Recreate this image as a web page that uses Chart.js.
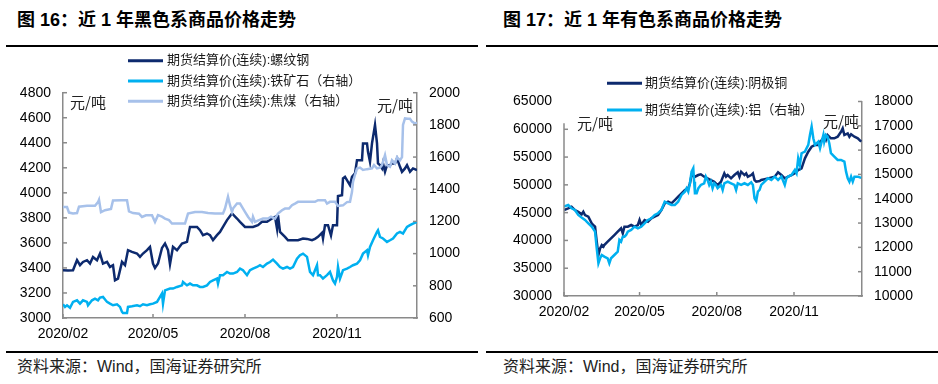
<!DOCTYPE html>
<html>
<head>
<meta charset="utf-8">
<script src="https://cdn.jsdelivr.net/npm/chart.js@4.4.1/dist/chart.umd.min.js"></script>
<style>
  body { margin: 0; width: 938px; height: 384px; background: #fff; position: relative; overflow: hidden;
         font-family: "Liberation Sans", Arial, "Noto Sans CJK SC", sans-serif; }
  .title { position: absolute; top: 8px; line-height: 24px; font-size: 18px; font-weight: bold; color: #000; }
  .rule { position: absolute; height: 2px; background: #000; }
  .src { position: absolute; top: 357px; line-height: 20px; font-size: 16px; color: #222; }
  .box { position: absolute; top: 50px; }
</style>
</head>
<body>
<div class="title" style="left:17px">图 16：近 1 年黑色系商品价格走势</div>
<div class="title" style="left:503px">图 17：近 1 年有色系商品价格走势</div>
<div class="rule" style="left:6px;width:472px;top:45px"></div>
<div class="rule" style="left:486px;width:452px;top:45px"></div>

<div class="box" style="left:0px"><canvas id="black" width="470" height="300"></canvas></div>
<div class="box" style="left:490px"><canvas id="color" width="448" height="300"></canvas></div>

<div class="rule" style="left:6px;width:472px;top:351px"></div>
<div class="rule" style="left:486px;width:452px;top:351px"></div>
<div class="src" style="left:17px">资料来源：Wind，国海证券研究所</div>
<div class="src" style="left:503px">资料来源：Wind，国海证券研究所</div>

<script>
// --- dados (dias contados a partir de 2020-02-01) ---
const tickDays = [0, 90, 182, 274];
const tickLabels = ['2020/02', '2020/05', '2020/08', '2020/11'];

// 螺纹钢 (eixo esquerdo)
const rebarDays = [0,5,10,14,17,20,24,27,30,34,37,40,44,47,50,52,55,59,62,65,69,74,77,80,84,87,90,92,95,99,
  102,105,107,110,114,119,124,127,134,137,140,144,147,150,154,157,160,164,169,174,177,182,185,190,195,199,
  204,209,212,214,215,217,222,225,230,235,240,244,249,252,255,259,260,262,265,268,270,274,275,279,280,282,
  285,287,289,292,294,299,300,304,305,307,309,312,314,315,317,319,320,322,324,327,329,332,334,337,339,342,
  344,347,350,354];
const rebarPrice = [3382,3380,3382,3462,3422,3448,3462,3435,3488,3462,3515,3435,3448,3408,3422,3302,3315,3448,
  3422,3542,3528,3515,3488,3515,3542,3568,3435,3400,3435,3560,3595,3542,3430,3568,3542,3595,3608,3728,3728,
  3702,3662,3675,3662,3622,3662,3688,3728,3782,3835,3795,3768,3728,3728,3728,3742,3768,3768,3795,3808,3715,
  3822,3688,3648,3621,3621,3621,3635,3632,3622,3632,3648,3680,3635,3742,3742,3660,3742,3742,3975,3981,4115,
  4128,4088,4061,4128,4155,4261,4261,4395,4395,4328,4248,4395,4542,4395,4235,4221,4195,4235,4168,4221,4221,
  4235,4235,4275,4208,4168,4195,4221,4168,4195,4181];

// 铁矿石 (eixo direito)
const oreDays = [0,2,4,7,10,14,17,20,24,25,29,32,35,37,40,44,47,50,54,57,59,60,64,65,69,74,77,80,84,87,90,94,
  97,99,100,102,107,110,114,119,120,124,127,130,134,137,140,144,147,150,154,155,157,160,164,167,170,174,177,
  180,184,187,190,194,197,200,204,207,210,214,217,220,224,227,230,234,237,240,244,247,250,254,255,257,260,
  264,267,270,272,274,275,277,280,284,287,290,294,297,300,304,305,307,310,314,315,317,320,324,327,330,334,
  337,340,344,347,350,354];
const orePrice = [685,669,679,664,700,710,689,710,700,679,710,720,710,727,731,700,689,679,685,669,638,631,631,
  669,673,679,673,685,679,685,689,700,731,752,689,772,783,783,793,803,824,803,814,803,803,793,793,803,824,834,
  845,814,866,866,886,876,876,886,907,897,866,897,907,917,928,917,938,948,963,938,917,907,917,907,917,969,990,
  1000,980,886,866,928,866,866,845,866,886,834,814,855,917,845,897,907,917,928,938,959,1000,1021,990,1042,1083,
  1135,1145,1104,1094,1073,1083,1094,1125,1135,1125,1166,1177,1187,1197];

// 焦煤 (eixo direito)
const coalDays = [0,4,6,10,14,16,24,32,35,36,38,42,48,50,58,64,66,70,76,79,83,89,92,95,99,102,106,109,115,122,
  125,132,139,145,152,160,162,165,167,169,170,174,177,179,182,185,189,190,192,196,200,205,208,212,215,219,222,
  226,229,232,235,245,252,255,262,264,267,272,275,280,284,287,289,290,292,294,297,300,304,309,311,314,317,319,
  322,324,327,329,332,334,337,339,340,342,345,347,349,352,354];
const coalPrice = [1290,1290,1255,1250,1252,1292,1297,1297,1320,1335,1258,1270,1278,1330,1332,1332,1262,1252,
  1248,1228,1238,1239,1197,1239,1230,1218,1208,1187,1187,1187,1249,1259,1259,1252,1249,1249,1280,1353,1301,1259,
  1280,1311,1311,1290,1259,1229,1197,1229,1197,1208,1218,1218,1229,1218,1249,1270,1280,1280,1301,1311,1322,1322,
  1322,1332,1332,1311,1322,1322,1296,1300,1320,1322,1384,1446,1490,1529,1535,1520,1525,1530,1550,1530,1535,1550,
  1612,1550,1540,1580,1560,1600,1580,1600,1800,1840,1838,1838,1820,1808,1815];

// 阴极铜 (eixo esquerdo)
const copperDays = [0,5,9,13,17,21,23,25,29,33,35,37,39,41,43,45,47,48,52,56,60,64,68,70,72,76,80,84,88,90,92,
  96,100,104,108,112,116,120,124,128,132,136,140,144,148,150,152,156,160,163,167,171,175,179,183,187,191,193,
  195,199,203,207,209,211,215,217,219,223,225,227,229,233,235,243,251,255,259,263,267,271,275,279,283,287,291,
  295,299,303,305,307,310,312,314,318,322,326,330,332,334,338,340,342,346,350,354];
const copperPrice = [45471,45777,46070,45471,45171,44697,45171,44572,44266,43073,42773,42473,39770,37376,38575,
  39175,38869,39175,39770,40370,40970,41570,42170,41280,42473,42473,42773,42473,42773,43672,42773,43672,43366,
  43972,44266,44572,45471,46674,46970,46674,47270,47864,48475,49069,49375,50275,51768,51462,51768,51893,51462,
  51170,50868,50565,49969,50565,52073,51462,51768,51170,51768,52253,51462,52362,51768,52073,51462,51768,52073,
  50868,50565,50689,50868,51170,51462,52253,51768,51170,51462,51768,52073,52667,52970,54772,55960,56860,57165,
  57165,57758,58064,58660,58064,58964,58370,58370,58660,59557,60170,58964,59270,58660,59090,58660,58370,57758];

// 铝 (eixo direito)
const aluDays = [0,5,9,13,17,21,25,29,33,37,39,41,43,45,48,52,54,56,60,64,66,68,70,72,74,76,80,84,88,92,96,100,
  104,108,112,116,120,124,128,132,136,140,144,146,148,150,152,154,155,156,158,160,163,167,169,171,173,175,177,
  179,181,183,187,189,191,195,199,203,205,207,211,215,219,223,225,227,229,231,233,235,239,243,247,251,255,259,
  263,265,267,271,275,277,279,281,283,287,291,293,295,297,299,303,305,307,309,310,312,314,316,318,322,326,330,
  334,336,338,340,342,344,346,350,354];
const aluPrice = [13676,13745,13609,13539,13333,13224,13127,12990,12852,12647,11961,11344,11551,11687,11618,
  11551,11344,11551,11687,11824,12304,12235,12440,12440,12510,12647,12716,12852,12784,12852,12990,13127,13196,
  13333,13403,13539,13881,13814,13745,13745,13881,14156,14292,14432,14292,14637,15115,15253,14704,14226,14226,
  14432,14568,14637,14909,14773,14568,14704,14432,14637,14568,14432,14568,14362,14637,14704,14637,14568,14362,
  14637,14568,14637,14568,14677,14568,14020,13909,14292,14362,14568,14704,14843,14773,14909,14773,14909,14568,
  14843,14909,14979,15185,15049,15665,15391,15872,15938,16214,16625,16967,16489,16214,16350,16078,16350,16625,
  16350,16625,16555,16284,15872,15732,15596,15596,15527,15115,14843,14704,14909,14704,14909,14909,14856];

const NAVY = '#0d2a6e';
const CYAN = '#00b0f0';
const PALE = '#a7c1ea';
const AXIS = '#8a8a8a';
const FONT = '"Liberation Sans", Arial, "Noto Sans CJK SC", sans-serif';
const CJK = '"Noto Sans CJK SC", sans-serif';

function pts(days, vals) {
  return days.map((d, i) => ({ x: d, y: vals[i] }));
}

// ticks para dentro, legenda e unidades desenhadas à mão
const decor = {
  id: 'decor',
  afterDraw(chart, args, o) {
    const ctx = chart.ctx;
    ctx.save();
    ctx.strokeStyle = AXIS;
    ctx.lineWidth = 1.5;
    Object.values(chart.scales).forEach(s => {
      const cut = (s.id === 'y' && o.axisTop) ? o.axisTop : null;
      if (cut !== null) {
        ctx.beginPath();
        ctx.moveTo(s.right, s.getPixelForValue(cut));
        ctx.lineTo(s.right, s.bottom);
        ctx.stroke();
      }
      s.ticks.forEach((t, i) => {
        if (cut !== null && t.value > cut) return;
        const p = s.getPixelForTick(i);
        ctx.beginPath();
        if (s.axis === 'x') { ctx.moveTo(p, s.top); ctx.lineTo(p, s.top - 4); }
        else if (s.position === 'left') { ctx.moveTo(s.right, p); ctx.lineTo(s.right + 4, p); }
        else { ctx.moveTo(s.left, p); ctx.lineTo(s.left - 4, p); }
        ctx.stroke();
      });
    });

    // legenda
    ctx.font = '13px ' + FONT;
    ctx.textBaseline = 'middle';
    chart.data.datasets.forEach((ds, i) => {
      const y = o.legendY[i];
      ctx.strokeStyle = ds.borderColor;
      ctx.lineWidth = 3;
      ctx.beginPath();
      ctx.moveTo(o.legendX[0], y);
      ctx.lineTo(o.legendX[1], y);
      ctx.stroke();
      ctx.fillStyle = '#1a1a1a';
      ctx.fillText(ds.label, o.legendX[2], y);
    });

    // unidades
    ctx.font = '15px ' + CJK;
    ctx.fillStyle = '#222';
    o.units.forEach(u => ctx.fillText('元/吨', u[0], u[1]));
    ctx.restore();
  }
};

function yAxis(pos, min, max, step, width) {
  return {
    type: 'linear', position: pos, min: min, max: max,
    grid: { display: false, drawTicks: false },
    border: { display: true, color: AXIS, width: 1.5 },
    ticks: {
      stepSize: step, padding: 12, color: '#000', font: { family: FONT, size: 14 },
      callback: v => String(v)
    },
    afterFit: s => { s.width = width; }
  };
}

function xAxis(max, height, pad) {
  return {
    type: 'linear', min: 0, max: max,
    grid: { display: false, drawTicks: false },
    border: { display: true, color: AXIS, width: 1.5 },
    afterBuildTicks: s => { s.ticks = tickDays.map(v => ({ value: v })); },
    ticks: {
      autoSkip: false, maxRotation: 0, padding: pad, color: '#000',
      font: { family: FONT, size: 14 },
      callback: (v, i) => tickLabels[i]
    },
    afterFit: s => { s.height = height; }
  };
}

function line(label, days, vals, color, axis, order) {
  return {
    label: label, data: pts(days, vals), borderColor: color, backgroundColor: color,
    borderWidth: 2.5, pointRadius: 0, tension: 0, yAxisID: axis, order: order
  };
}

new Chart(document.getElementById('black'), {
  type: 'line',
  data: {
    datasets: [
      line('期货结算价(连续):螺纹钢', rebarDays, rebarPrice, NAVY, 'y', 2),
      line('期货结算价(连续):铁矿石（右轴）', oreDays, orePrice, CYAN, 'y1', 1),
      line('期货结算价(连续):焦煤（右轴）', coalDays, coalPrice, PALE, 'y1', 0)
    ]
  },
  options: {
    responsive: false, animation: false,
    layout: { padding: { top: 42.7, left: 0, right: 0, bottom: 0 } },
    plugins: {
      legend: { display: false }, tooltip: { enabled: false },
      decor: { legendX: [128, 163, 167], legendY: [10.7, 31, 51.3], units: [[70, 52], [377, 55]] }
    },
    scales: {
      x: xAxis(354, 32, 8),
      y: yAxis('left', 3000, 4800, 200, 63),
      y1: yAxis('right', 600, 2000, 200, 53)
    }
  },
  plugins: [decor]
});

new Chart(document.getElementById('color'), {
  type: 'line',
  data: {
    datasets: [
      line('期货结算价(连续):阴极铜', copperDays, copperPrice, NAVY, 'y', 1),
      line('期货结算价(连续):铝（右轴）', aluDays, aluPrice, CYAN, 'y1', 0)
    ]
  },
  options: {
    responsive: false, animation: false,
    layout: { padding: { top: 51.5, left: 0, right: 0, bottom: 0 } },
    plugins: {
      legend: { display: false }, tooltip: { enabled: false },
      decor: { axisTop: 61100, legendX: [117, 152, 155], legendY: [33.3, 60], units: [[87, 73], [333, 71]] }
    },
    scales: {
      x: xAxis(355, 54, 8),
      y: Object.assign(yAxis('left', 30000, 65000, 5000, 74), { border: { display: false } }),
      y1: yAxis('right', 10000, 18000, 1000, 76)
    }
  },
  plugins: [decor]
});
</script>
</body>
</html>
